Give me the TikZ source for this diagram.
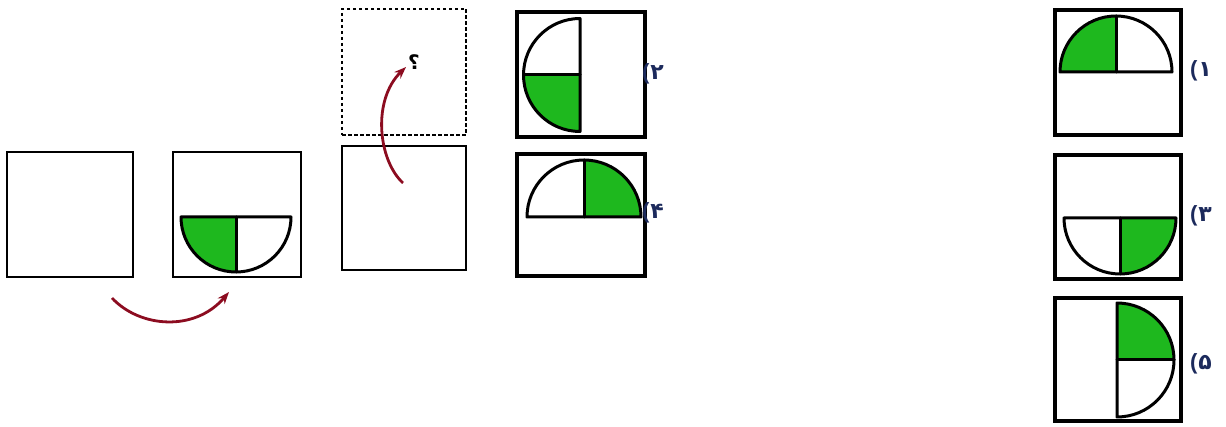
\documentclass[tikz,border=0pt]{standalone}
\usepackage{fontspec}
\newfontfamily\labelfont{DejaVu Sans}
\newfontfamily\parenfont{Liberation Sans}
\usetikzlibrary{arrows.meta}
\definecolor{qgreen}{RGB}{30,184,30}
\definecolor{qred}{RGB}{140,12,32}
\definecolor{qnavy}{RGB}{28,42,92}
\newcommand\hdisc[6]{%
  % #1 cx, #2 cy, #3 r, #4 half start angle, #5 middle angle, #6 green start angle
  \fill[qgreen] (#1,#2) -- ++(#6:#3) arc[start angle=#6, delta angle=90, radius=#3] -- cycle;
  \draw[hdline] (#1,#2) ++(#4:#3) arc[start angle=#4, delta angle=180, radius=#3] -- cycle;
  \draw[hdline] (#1,#2) -- ++(#5:#3);
}
\newcommand\optlabel[1]{{\parenfont\bfseries (}\kern1pt\relax #1}
\begin{document}
\begin{tikzpicture}[x=1pt,y=-1pt,
  thinbox/.style={draw, line width=2.3pt, inner sep=0pt},
  optbox/.style={draw, line width=4.6pt, inner sep=0pt},
  hdline/.style={line width=3pt, line join=round, line cap=round},
  turn/.style={qred, line width=2.8pt, -{Stealth[length=12pt,width=9pt]}},
  lbl/.style={text=qnavy, font=\labelfont\bfseries\fontsize{22}{22}\selectfont, inner sep=0pt}]
\useasboundingbox (0,0) rectangle (1226,427);
% question row
\node[thinbox, minimum width=126pt, minimum height=125pt] (b1) at (70,214.5) {};
\node[thinbox, minimum width=128pt, minimum height=125pt] (b2) at (237,214.5) {};
\node[thinbox, minimum width=124pt, minimum height=124pt] (b3) at (404,208) {};
\node[thinbox, line width=2pt, dash pattern=on 3.5pt off 2.5pt, minimum width=124pt, minimum height=126pt] (b4) at (404,72) {};
\hdisc{236}{217}{55}{0}{90}{90}
% arrows
\coordinate (a1s) at (112,298);
\coordinate (a1e) at (229,292);
\draw[turn] (a1s) .. controls (140,328) and (195,332) .. (a1e);
\coordinate (a2s) at (403,183);
\coordinate (a2e) at (406,67);
\draw[turn] (a2s) .. controls (378,160) and (372,100) .. (a2e);
\node[font=\labelfont\bfseries\fontsize{20}{20}\selectfont, inner sep=0pt] (q) at (414,62) {؟};
% options
\node[optbox, minimum width=128pt, minimum height=125pt] (o2) at (581,74.5) {};
\node[optbox, minimum width=128pt, minimum height=122pt] (o4) at (581,215) {};
\node[optbox, minimum width=126pt, minimum height=125pt] (o1) at (1118,72.5) {};
\node[optbox, minimum width=126pt, minimum height=124pt] (o3) at (1118,217) {};
\node[optbox, minimum width=126pt, minimum height=123pt] (o5) at (1118,359.5) {};
\hdisc{580}{75}{56.5}{90}{180}{90}
\hdisc{584}{217}{57}{180}{270}{270}
\hdisc{1116}{72}{56}{180}{270}{180}
\hdisc{1120}{218}{56}{0}{90}{0}
\hdisc{1117}{360}{57}{270}{0}{270}
% labels
\node[lbl] (l2) at (653,74) {\optlabel{۲}};
\node[lbl] (l4) at (653,213) {\optlabel{۴}};
\node[lbl] (l1) at (1201,71) {\optlabel{۱}};
\node[lbl] (l3) at (1201,216) {\optlabel{۳}};
\node[lbl] (l5) at (1201,364) {\optlabel{۵}};
\end{tikzpicture}
\end{document}
